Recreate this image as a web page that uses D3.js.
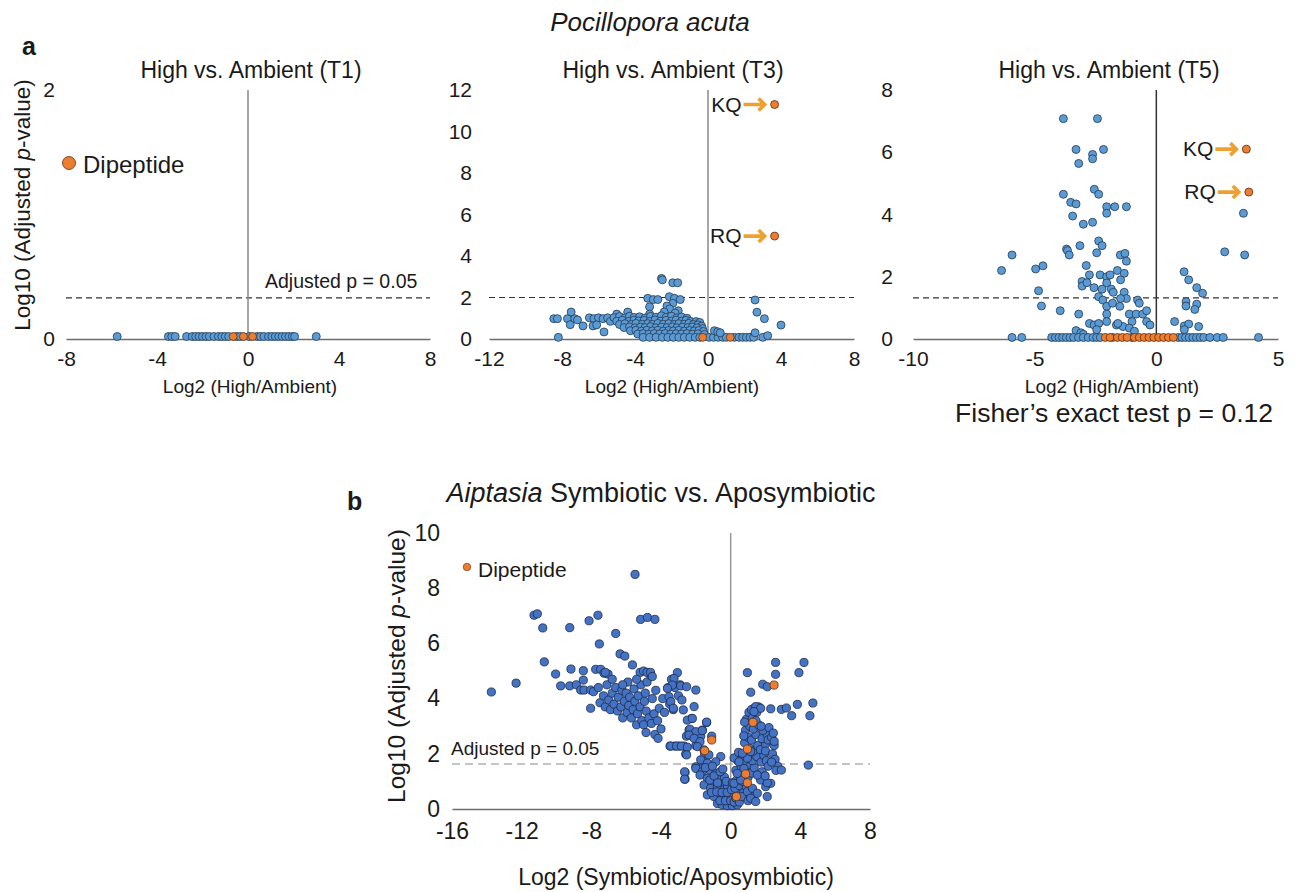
<!DOCTYPE html>
<html>
<head>
<meta charset="utf-8">
<script src="https://cdn.jsdelivr.net/npm/d3@7"></script>
<style>
  body { margin: 0; background: #fff; }
  text { font-family: "Liberation Sans", Arial, sans-serif; fill: #1a1a1a; }
</style>
</head>
<body>
<script>
// ---- data ----
var t1XTicks = [-8, -4, 0, 4, 8];
var t1YTicks = [0, 2];
var t3XTicks = [-12, -8, -4, 0, 4, 8];
var t3YTicks = [0, 2, 4, 6, 8, 10, 12];
var t5XTicks = [-10, -5, 0, 5];
var t5YTicks = [0, 2, 4, 6, 8];
var bXTicks = [-16, -12, -8, -4, 0, 4, 8];
var bYTicks = [0, 2, 4, 6, 8, 10];

var t1Threshold = 0.33;
var t3Threshold = 2.0;
var t5Threshold = 1.32;
var bThreshold = 1.63;

// T1: everything sits on the baseline
var t1Blue = [[-5.75,0.02],[-3.5,0.02],[-3.35,0.02],[-3.2,0.02],[-2.7,0.02],[-2.45,0.02],[-2.3,0.02],
  [-2.15,0.02],[-2.0,0.02],[-1.85,0.02],[-1.7,0.02],[-1.5,0.02],[-1.3,0.02],[-1.15,0.02],[-1.0,0.02],
  [-0.85,0.02],[-0.5,0.02],[-0.35,0.02],[0.05,0.02],[0.4,0.02],[0.55,0.02],[0.7,0.02],[0.9,0.02],
  [1.05,0.02],[1.2,0.02],[1.35,0.02],[1.5,0.02],[1.65,0.02],[1.8,0.02],[1.95,0.02],[2.05,0.02],[3.0,0.02]];
var t1Dip = [[-0.65,0.02],[-0.2,0.02],[0.2,0.02]];

var t3Blue = [
  [-8.45,0.98],[-8.25,0.98],[-8.2,0.08],[-7.7,0.98],[-7.5,1.3],[-7.55,0.69],[-7.3,0.98],[-7.15,0.92],
  [-6.85,0.63],[-6.5,1.02],[-6.25,0.98],[-6.0,1.02],[-5.75,0.98],[-5.5,1.02],[-6.3,0.63],[-6.1,0.68],
  [-5.7,0.34],[-5.35,0.85],[-5.0,1.2],[-4.4,1.3],
  [-2.55,2.92],[-2.5,2.85],[-1.93,2.71],[-1.66,2.71],[-3.3,1.96],[-3.0,1.9],[-2.75,1.9],[-2.12,2.04],
  [-1.84,1.96],[-1.52,1.9],[-1.93,1.72],[-2.25,1.59],[-1.63,1.36],[-3.2,1.55],[-3.2,1.2],[-2.1,1.45],
  [-2.4,1.3],[-1.8,1.25],
  [-5.15,1.03],[-4.85,1.08],[-4.55,1.02],[-4.3,1.1],[-4.05,1.04],[-3.75,1.07],[-3.45,1.01],[-3.15,1.09],
  [-2.85,1.05],[-2.55,1.12],[-2.3,1.04],[-2.0,1.1],[-1.7,1.02],[-1.45,1.06],[-1.15,1.0],
  [-5.0,0.86],[-4.7,0.9],[-4.35,0.85],[-4.05,0.91],[-3.8,0.87],[-3.5,0.9],[-3.2,0.85],[-2.9,0.92],
  [-2.6,0.86],[-2.3,0.9],[-2.0,0.87],[-1.75,0.91],[-1.45,0.86],[-1.2,0.9],[-0.95,0.85],[-0.65,0.84],[-0.45,0.8],
  [-4.85,0.7],[-4.55,0.74],[-4.2,0.7],[-3.95,0.75],[-3.6,0.71],[-3.3,0.74],[-3.05,0.7],[-2.75,0.75],
  [-2.45,0.71],[-2.15,0.74],[-1.85,0.7],[-1.6,0.74],[-1.3,0.71],[-1.05,0.75],[-0.8,0.7],[-0.55,0.68],[-0.35,0.62],
  [-4.6,0.55],[-4.3,0.58],[-4.0,0.54],[-3.7,0.57],[-3.45,0.55],[-3.15,0.59],[-2.85,0.54],[-2.55,0.57],
  [-2.25,0.55],[-1.95,0.58],[-1.7,0.54],[-1.4,0.57],[-1.1,0.55],[-0.85,0.58],[-0.6,0.54],[-0.3,0.5],
  [-4.25,0.4],[-3.95,0.42],[-3.65,0.38],[-3.35,0.42],[-3.05,0.39],[-2.75,0.42],[-2.45,0.38],[-2.15,0.41],
  [-1.9,0.39],[-1.6,0.42],[-1.3,0.38],[-1.0,0.41],[-0.75,0.39],[-0.5,0.41],[-0.25,0.36],
  [-3.85,0.24],[-3.55,0.26],[-3.25,0.23],[-2.95,0.26],[-2.65,0.24],[-2.35,0.26],[-2.05,0.23],[-1.75,0.25],
  [-1.45,0.24],[-1.15,0.26],[-0.85,0.23],[-0.55,0.25],[-0.2,0.22],
  [-3.55,0.08],[-3.2,0.08],[-2.85,0.08],[-2.5,0.08],[-2.2,0.08],[-1.9,0.08],[-1.6,0.08],[-1.3,0.08],
  [-1.0,0.08],[-0.7,0.08],[-0.45,0.08],[0.05,0.08],[0.3,0.08],[0.55,0.08],[0.8,0.08],[1.0,0.08],
  [1.45,0.08],[1.7,0.08],[1.9,0.08],[2.1,0.08],[2.3,0.08],[2.5,0.08],
  [0.35,0.4],[0.53,0.35],[0.67,0.3],[2.58,1.88],[2.68,1.29],[3.09,0.98],[4.0,0.67],[2.58,0.3],
  [3.0,0.08],[3.27,0.16]];
var t3Dip = [[-0.29,0.08],[1.22,0.08],[3.65,11.3],[3.65,4.96]];
var t3Labels = [{ name: "KQ", x: 3.65, y: 11.3 }, { name: "RQ", x: 3.65, y: 4.96 }];

var t5Blue = [
  [-3.82,7.08],[-2.42,7.08],[-3.3,6.09],[-2.62,5.93],[-2.62,5.79],[-2.17,6.09],[-3.19,5.64],
  [-2.55,4.81],[-2.37,4.65],[-3.82,4.65],[-3.52,4.39],[-3.3,4.34],[-2.04,4.25],[-1.71,4.25],[-2.04,4.04],
  [-1.23,4.25],[-3.44,3.95],[-3.0,3.69],[-2.62,3.75],[-3.69,2.89],[-3.65,2.84],[-3.58,2.7],[-3.14,3.0],
  [-2.37,3.15],[-2.23,3.0],[-2.45,2.77],[-1.48,2.7],[-1.29,2.75],[-1.23,2.5],[-5.93,2.7],[-6.36,2.2],
  [-4.96,2.25],[-4.66,2.35],[-4.84,1.55],[-4.72,1.06],[-3.95,0.91],[-3.19,0.8],[-2.88,2.36],[-2.75,2.06],
  [-3.05,1.85],[-3.05,1.7],[-2.85,1.81],[-2.31,2.06],[-2.04,2.0],[-1.9,2.06],[-2.04,1.8],[-1.85,1.6],
  [-1.77,1.5],[-2.56,1.65],[-2.23,1.6],[-1.6,2.2],[-1.32,2.11],[-1.47,1.9],[-2.37,1.36],[-2.2,1.25],
  [-1.32,1.5],[-1.23,1.3],[-1.47,1.3],[-2.04,1.05],[-1.8,1.15],[-1.5,1.05],[-0.77,1.25],[-0.7,1.15],
  [-2.04,0.8],[-2.04,0.56],[-1.11,0.8],[-0.83,0.8],[-0.56,0.8],[-0.4,0.91],[-1.0,0.56],[-0.4,0.56],
  [-0.26,0.45],[-2.75,0.5],[-2.56,0.45],[-2.37,0.5],[-2.45,0.3],[-3.3,0.27],[-3.1,0.2],[-3.0,0.15],
  [-1.64,0.45],[-1.37,0.4],[-1.58,0.5],[-1.11,0.35],[-0.9,0.25],
  [0.75,0.56],[1.15,0.42],[1.33,0.48],[1.15,0.3],[1.74,0.4],[1.14,2.16],[1.33,1.9],[1.66,1.65],
  [1.9,1.47],[1.22,1.2],[1.22,1.06],[1.66,1.12],[1.58,0.95],[2.81,2.8],[3.63,2.7],[3.58,4.04],
  [-5.93,0.05],[-5.53,0.05],[-4.3,0.05],[-4.15,0.05],[-4.0,0.05],[-3.85,0.05],[-3.7,0.05],[-3.55,0.05],
  [-3.4,0.05],[-3.2,0.05],[-3.0,0.05],[-2.8,0.05],[-2.6,0.05],[-2.45,0.05],[-2.3,0.05],[-1.8,0.05],
  [-1.0,0.05],[0.9,0.05],[1.05,0.05],[1.2,0.05],[1.35,0.05],[1.5,0.05],[1.65,0.05],[1.8,0.05],
  [1.95,0.05],[2.2,0.05],[2.5,0.05],[2.75,0.05],[4.2,0.05]];
var t5Dip = [[-2.1,0.05],[-1.9,0.05],[-1.6,0.05],[-1.4,0.05],[-1.2,0.05],[-0.9,0.05],[-0.7,0.05],
  [-0.5,0.05],[-0.3,0.05],[-0.1,0.05],[0.1,0.05],[0.3,0.05],[0.5,0.05],[0.7,0.05],[3.7,6.1],[3.8,4.72]];
var t5Labels = [{ name: "KQ", x: 3.7, y: 6.1 }, { name: "RQ", x: 3.8, y: 4.72 }];

var bBlue = [
  // far left sparse
  [-13.74,4.24],[-12.32,4.56],[-11.29,7.02],[-11.1,7.07],[-10.79,6.56],[-10.7,5.33],[-10.05,4.89],
  [-9.76,4.46],[-9.24,4.46],[-9.24,6.57],[-9.17,5.07],[-8.86,4.5],[-8.61,4.31],[-8.42,4.31],
  [-8.46,5.01],[-8.46,4.67],[-8.13,6.82],[-7.62,7.02],[-7.54,5.98],[-8.04,4.31],[-7.88,4.25],[-8.04,3.65],
  [-7.75,5.06],[-7.46,5.06],[-7.27,4.92],[-7.04,4.89],[-6.6,6.36],[-6.35,5.62],[-6.08,5.54],[-5.64,5.22],
  [-5.49,8.5],[-5.17,6.87],[-4.78,6.94],[-4.35,6.87],
  // main descending band
  [-7.6,4.4],[-7.5,3.85],[-7.3,4.1],[-7.2,3.7],[-7.1,4.5],[-7.0,3.95],[-6.9,3.6],[-6.8,4.2],[-6.7,3.8],
  [-6.6,4.4],[-6.5,3.55],[-6.45,4.05],[-6.3,3.7],[-6.25,4.3],[-6.2,3.3],[-6.1,3.9],[-6.0,4.2],[-5.95,3.5],
  [-5.85,3.75],[-5.8,4.05],[-5.7,3.3],[-5.6,3.6],[-5.55,4.35],[-5.5,3.9],[-5.4,3.05],[-5.35,3.45],
  [-5.3,4.1],[-5.2,3.7],[-5.15,4.5],[-5.1,3.2],[-5.0,3.05],[-4.95,3.9],[-4.9,4.2],[-4.85,3.55],
  [-4.8,4.6],[-4.7,3.3],[-4.6,4.85],[-4.55,3.1],[-4.5,4.0],[-4.4,3.45],[-4.35,2.7],[-4.3,4.3],[-4.2,3.2],
  [-4.1,3.65],[-4.0,2.9],[-3.9,4.0],[-3.8,3.5],[-3.6,4.4],[-3.5,3.8],[-3.4,4.7],[-3.3,3.6],[-3.2,4.4],
  [-3.0,4.1],[-2.9,4.5],[-2.8,3.95],[-5.2,4.95],[-5.0,5.0],[-4.8,4.95],[-4.6,4.95],[-4.5,4.8],
  [-5.9,4.6],[-5.4,4.7],[-6.2,4.5],[-6.8,4.7],[-7.2,4.95],[-4.86,2.77],[-4.17,2.56],
  [-3.48,2.28],[-3.21,2.28],[-2.96,2.28],[-2.68,2.28],[-2.54,2.64],[-2.39,2.86],[-2.24,3.28],
  [-2.58,1.99],[-2.0,2.3],[-1.72,2.64],[-1.63,2.86],[-1.38,3.13],[-1.09,2.64],[-1.5,2.0],[-1.55,1.73],
  [-2.0,1.53],[-1.78,1.44],[-2.62,1.32],[-2.62,1.08],[-0.57,1.9],
  [-3.06,4.94],[-3.25,4.73],[-3.35,4.49],[-3.63,4.37],[-2.87,4.46],[-2.53,4.43],[-2.0,4.31],
  [-3.54,4.07],[-3.44,3.89],[-3.29,3.65],[-2.72,3.59],[-2.1,3.71],[-2.49,3.22],[-2.2,3.28],[-1.38,3.15],
  [-2.34,2.89],[-2.0,2.8],[-1.63,2.84],[-2.39,2.68],[-2.1,2.56],[-1.76,2.44],
  [-3.44,2.28],[-3.1,2.28],[-2.83,2.28],[-2.49,2.24],[-2.53,1.96],
  [-1.91,2.26],[-1.53,2.14],[-1.25,1.96],[-0.86,1.71],[-1.72,1.78],[-1.34,1.66],
  // left side of the V
  [-2.0,1.47],[-1.63,1.35],[-1.19,1.41],[-0.86,1.29],[-2.64,1.35],[-2.64,1.08],
  [-1.76,1.23],[-1.34,1.11],[-0.96,0.99],[-0.48,0.93],[-1.53,0.87],[-1.15,0.75],[-0.76,0.81],
  [-0.38,0.71],[-0.19,0.83],[-1.34,0.51],[-0.96,0.45],[-0.57,0.54],[-0.1,0.45],
  [-0.76,0.2],[-0.48,0.15],[-0.19,0.12],[0.1,0.12],[0.38,0.15],[-0.62,0.3],[-0.3,0.3],[0.0,0.3],
  [-1.1,0.6],[-0.8,0.62],[-0.5,0.6],[-0.2,0.6],[-1.2,1.05],[-0.7,1.1],[-0.35,1.15],[-0.95,1.2],
  [-0.6,1.35],[-1.45,1.5],[-1.05,1.55],[-0.45,1.45],[-0.75,0.95],[-0.25,1.0],[0.05,0.7],[0.1,0.95],
  // right side of the V
  [0.2,0.25],[0.3,0.4],[0.45,0.55],[0.25,0.75],[0.5,0.85],[0.35,1.05],[0.55,1.2],[0.3,1.4],[0.6,1.55],
  [0.4,1.75],[0.65,1.9],[0.2,1.85],[0.45,2.05],[0.75,0.6],[0.9,0.8],[0.7,1.0],[1.0,1.15],[0.8,1.4],
  [1.05,1.6],[0.75,1.75],[0.95,1.95],[1.1,2.2],[0.8,2.4],[1.0,2.6],[0.85,2.85],[1.1,3.0],[0.9,3.25],
  [1.05,3.5],[0.8,3.15],[0.75,2.65],[1.2,1.3],[1.35,1.5],[1.25,1.75],[1.5,1.9],[1.3,2.1],[1.55,2.3],
  [1.2,2.5],[1.45,2.7],[1.3,2.9],[1.6,3.05],[1.25,3.3],[1.5,3.5],[1.35,3.65],[1.6,3.7],[1.2,3.6],
  [1.45,3.2],[1.75,1.7],[1.9,1.95],[1.7,2.15],[2.0,2.35],[1.8,2.55],[2.1,2.7],[1.85,2.85],[2.15,2.5],
  [2.0,2.1],[2.2,2.95],[1.75,3.0],[2.05,1.75],[2.15,1.55],[1.8,1.35],[2.35,2.6],[2.5,2.3],
  [2.4,2.0],[2.55,1.8],[2.7,1.55],[2.45,2.75],[2.35,1.7],[2.6,1.4],[2.5,2.45],[0.5,0.25],[0.65,0.45],
  [1.3,0.5],[1.0,0.3],[0.96,0.63],[1.25,0.75],[1.53,0.57],[1.15,0.39],[1.44,0.27],[1.72,1.05],
  [2.01,0.81],[1.53,1.23],[2.3,0.93],[0.19,0.93],[0.57,1.05],[0.38,1.29],[0.76,1.47],[0.48,1.71],
  [0.96,1.84],[0.67,2.02],[1.15,2.08],
  // right-hand outliers
  [0.96,4.94],[1.15,4.23],[1.84,4.52],[2.1,4.43],[2.58,5.31],[2.58,4.88],[3.92,4.94],[4.21,5.31],
  [3.83,3.79],[4.72,3.84],[4.55,3.38],[3.5,3.38],[2.91,3.61],[3.2,3.66],[2.3,3.63],[2.91,1.41],
  [4.46,1.59],[2.1,0.45],[2.1,0.95],[1.98,1.2],[1.44,3.71],[1.72,3.65],[1.34,3.53]];
var bDip = [[-1.49,2.11],[-1.09,2.5],[0.96,2.17],[1.28,3.14],[0.86,1.27],[0.96,0.95],[0.33,0.45],[2.49,4.49]];

// ---- drawing ----
var w = 1300, h = 892;
var svg = d3.select("body").append("svg").attr("width", w).attr("height", h);

var orange = "#ed7d31";
var arrowColor = "#f0a030";
var plain = function(d) { return String(d); }; // hyphen minus, as in the figure

function drawPanel(p) {
  var x = d3.scaleLinear().domain(p.xDomain).range(p.xRange);
  var y = d3.scaleLinear().domain(p.yDomain).range(p.yRange);
  var g = svg.append("g");

  // threshold line
  g.append("line")
    .attr("x1", p.xRange[0]).attr("x2", p.xRange[1])
    .attr("y1", y(p.threshold)).attr("y2", y(p.threshold))
    .attr("stroke", p.dashColor).attr("stroke-width", 1.2)
    .attr("stroke-dasharray", p.dash);

  // axes: x baseline and vertical zero line
  var xAxis = d3.axisBottom(x).tickValues(p.xTicks).tickSize(0).tickPadding(p.tickPad)
    .tickFormat(plain);
  var gx = g.append("g").attr("transform", "translate(0," + y(0) + ")").call(xAxis);
  gx.select(".domain").attr("stroke", "#6e6e6e").attr("stroke-width", 1.5);
  gx.selectAll("text").attr("font-size", p.tickFont).attr("fill", "#1a1a1a")
    .style("font-family", "Liberation Sans, Arial, sans-serif");

  var yAxis = d3.axisLeft(y).tickValues(p.yTicks).tickSize(0).tickPadding(p.yPad)
    .tickFormat(plain);
  var gy = g.append("g").attr("transform", "translate(" + p.xRange[0] + ",0)").call(yAxis);
  gy.select(".domain").remove();
  gy.selectAll("text").attr("font-size", p.tickFont).attr("fill", "#1a1a1a")
    .style("font-family", "Liberation Sans, Arial, sans-serif");

  g.append("line")
    .attr("x1", x(0)).attr("x2", x(0))
    .attr("y1", p.yRange[1]).attr("y2", y(0))
    .attr("stroke", p.zeroColor).attr("stroke-width", 1.5);

  // points
  g.append("g").selectAll("circle").data(p.blue).join("circle")
    .attr("cx", function(d) { return x(d[0]); })
    .attr("cy", function(d) { return y(d[1]); })
    .attr("r", p.r)
    .attr("fill", p.blueColor).attr("stroke", p.strokeColor).attr("stroke-width", 0.8);
  g.append("g").selectAll("circle").data(p.dip).join("circle")
    .attr("cx", function(d) { return x(d[0]); })
    .attr("cy", function(d) { return y(d[1]); })
    .attr("r", p.r)
    .attr("fill", orange).attr("stroke", "#5a3010").attr("stroke-width", 0.8);

  // KQ / RQ arrows
  (p.labels || []).forEach(function(l) {
    var px = x(l.x), py = y(l.y);
    g.append("path")
      .attr("d", "M" + (px - 31) + "," + py + "H" + (px - 10) +
        "M" + (px - 16) + "," + (py - 6) + "L" + (px - 10) + "," + py + "L" + (px - 16) + "," + (py + 6))
      .attr("fill", "none").attr("stroke", arrowColor).attr("stroke-width", 3.6);
    g.append("text").attr("x", px - 33).attr("y", py + 7)
      .attr("text-anchor", "end").attr("font-size", 21).text(l.name);
  });
  return { x: x, y: y };
}

var topCommon = { yRange: [339, 90], r: 4, tickFont: 21, tickPad: 12,
  blueColor: "#5b9bd5", strokeColor: "#233a52", dashColor: "#333", dash: "6,4" };

drawPanel(Object.assign({}, topCommon, {
  xDomain: [-8, 8], xRange: [66, 430], yDomain: [0, 2], xTicks: t1XTicks, yTicks: t1YTicks, yPad: 11,
  threshold: t1Threshold, blue: t1Blue, dip: t1Dip, zeroColor: "#8a8a8a" }));
drawPanel(Object.assign({}, topCommon, {
  xDomain: [-12, 8], xRange: [489, 854], yDomain: [0, 12], xTicks: t3XTicks, yTicks: t3YTicks, yPad: 17,
  threshold: t3Threshold, blue: t3Blue, dip: t3Dip, labels: t3Labels, zeroColor: "#8a8a8a" }));
drawPanel(Object.assign({}, topCommon, {
  xDomain: [-10, 5], xRange: [913, 1278], yDomain: [0, 8], xTicks: t5XTicks, yTicks: t5YTicks, yPad: 20,
  threshold: t5Threshold, blue: t5Blue, dip: t5Dip, labels: t5Labels, zeroColor: "#333" }));
drawPanel({
  xDomain: [-16, 8], xRange: [452, 870], yDomain: [0, 10], yRange: [809, 533],
  xTicks: bXTicks, yTicks: bYTicks, threshold: bThreshold, blue: bBlue, dip: bDip,
  r: 4.1, tickFont: 23, tickPad: 14, yPad: 12, blueColor: "#4472c4", strokeColor: "#1c2a48",
  dashColor: "#8a8a8a", dash: "8,5", zeroColor: "#999" });

// ---- text ----
function txt(x, y, s, size, anchor) {
  return svg.append("text").attr("x", x).attr("y", y).attr("font-size", size)
    .attr("text-anchor", anchor || "middle").text(s);
}

var head = txt(650, 31, "", 26);
head.append("tspan").attr("font-style", "italic").text("Pocillopora acuta");
txt(22, 55, "a", 25, "start").attr("font-weight", "bold");
txt(347, 510, "b", 25, "start").attr("font-weight", "bold");

txt(251, 78, "High vs. Ambient (T1)", 23);
txt(673, 78, "High vs. Ambient (T3)", 23);
txt(1109, 78, "High vs. Ambient (T5)", 23);

txt(250, 393, "Log2 (High/Ambient)", 19);
txt(672, 393, "Log2 (High/Ambient)", 19);
txt(1112, 393, "Log2 (High/Ambient)", 19);
txt(1273, 422, "Fisher\u2019s exact test p = 0.12", 26.5, "end");

var yl = svg.append("text").attr("transform", "translate(30,205) rotate(-90)")
  .attr("text-anchor", "middle").attr("font-size", 22.5);
yl.append("tspan").text("Log10 (Adjusted ");
yl.append("tspan").attr("font-style", "italic").text("p");
yl.append("tspan").text("-value)");

// T1 legend and threshold note
svg.append("circle").attr("cx", 69).attr("cy", 163).attr("r", 6.5)
  .attr("fill", orange).attr("stroke", "#5a3010").attr("stroke-width", 0.8);
txt(83, 173, "Dipeptide", 24, "start");
txt(265, 288, "Adjusted p = 0.05", 19.5, "start");

// panel b text
var bt = txt(661, 502, "", 27);
bt.append("tspan").attr("font-style", "italic").text("Aiptasia");
bt.append("tspan").text(" Symbiotic vs. Aposymbiotic");

var yl2 = svg.append("text").attr("transform", "translate(405,666) rotate(-90)")
  .attr("text-anchor", "middle").attr("font-size", 24.5);
yl2.append("tspan").text("Log10 (Adjusted ");
yl2.append("tspan").attr("font-style", "italic").text("p");
yl2.append("tspan").text("-value)");

txt(676, 885, "Log2 (Symbiotic/Aposymbiotic)", 23);
svg.append("circle").attr("cx", 467).attr("cy", 567).attr("r", 3.8)
  .attr("fill", orange).attr("stroke", "#5a3010").attr("stroke-width", 0.6);
txt(478, 577, "Dipeptide", 21, "start").attr("fill", "#555");
txt(451, 755, "Adjusted p = 0.05", 19, "start");
</script>
</body>
</html>
